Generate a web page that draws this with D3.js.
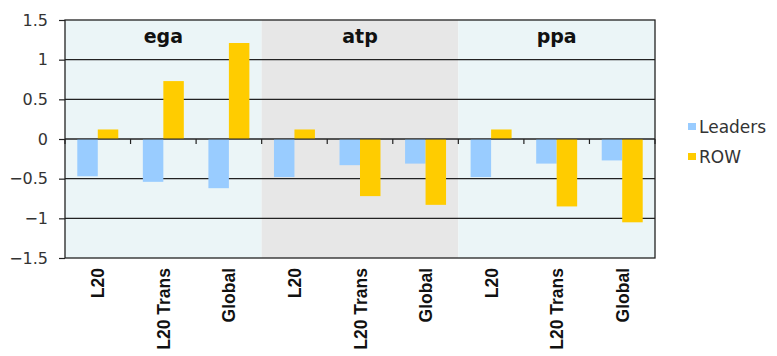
<!DOCTYPE html>
<html>
<head>
<meta charset="utf-8">
<script src="https://cdn.jsdelivr.net/npm/d3@7"></script>
<style>
  html, body { margin: 0; padding: 0; background: #fff; }
  svg { display: block; font-family: "Liberation Sans", Arial, sans-serif; }
</style>
</head>
<body>
<svg id="chart" width="777" height="356"></svg>
<script>
// Scenario groups and the policy runs inside each
const groups = ["ega", "atp", "ppa"];
const runs = ["L20", "L20 Trans", "Global"];
const seriesNames = ["Leaders", "ROW"];

// Values per group, in run order
const leaders = [
  [-0.47, -0.54, -0.62],  // ega
  [-0.48, -0.33, -0.31],  // atp
  [-0.48, -0.31, -0.27]   // ppa
];
const row = [
  [0.12, 0.73, 1.21],     // ega
  [0.12, -0.72, -0.83],   // atp
  [0.12, -0.85, -1.05]    // ppa
];
const yTicks = [1.5, 1, 0.5, 0, -0.5, -1, -1.5];

const colors = { Leaders: "#99CCFF", ROW: "#FFCC00" };
const groupFill = { ega: "#EBF5F7", atp: "#E7E7E7", ppa: "#EBF5F7" };

const plot = { left: 65, right: 655, top: 20, bottom: 258 };
const svg = d3.select("#chart");

// One band per (group, run)
const cells = [];
groups.forEach((g, gi) => runs.forEach((r, ri) => {
  cells.push({ key: g + "|" + r, group: g, run: r, Leaders: leaders[gi][ri], ROW: row[gi][ri] });
}));

const x = d3.scaleBand().domain(cells.map(d => d.key)).range([plot.left, plot.right]).paddingInner(0).paddingOuter(0);
const xs = d3.scaleBand().domain(seriesNames).range([0, x.bandwidth()]).paddingInner(0).paddingOuter(0.6);
const y = d3.scaleLinear().domain([-1.5, 1.5]).range([plot.bottom, plot.top]);

// Group backgrounds and titles
groups.forEach(g => {
  const keys = cells.filter(c => c.group === g).map(c => c.key);
  const x0 = x(keys[0]), x1 = x(keys[keys.length - 1]) + x.bandwidth();
  svg.append("rect").attr("x", x0).attr("y", plot.top).attr("width", x1 - x0).attr("height", plot.bottom - plot.top)
    .attr("fill", groupFill[g]);
  svg.append("text").attr("x", (x0 + x1) / 2).attr("y", 43).attr("text-anchor", "middle")
    .attr("font-family", "'DejaVu Sans', Verdana, sans-serif")
    .attr("font-size", 19).attr("font-weight", "bold").attr("fill", "#111").text(g);
});

// Gridlines
svg.append("g").selectAll("line").data(yTicks.filter(t => t !== 1.5 && t !== -1.5)).join("line")
  .attr("x1", plot.left).attr("x2", plot.right)
  .attr("y1", d => y(d)).attr("y2", d => y(d))
  .attr("stroke", "#222").attr("stroke-width", 1.2);

// Bars
const barG = svg.append("g");
cells.forEach(c => {
  seriesNames.forEach(s => {
    const v = c[s];
    barG.append("rect")
      .attr("x", x(c.key) + xs(s))
      .attr("width", xs.bandwidth())
      .attr("y", y(Math.max(0, v)))
      .attr("height", Math.abs(y(v) - y(0)))
      .attr("fill", colors[s]);
  });
});

// Zero line and its category tick marks
svg.append("line").attr("x1", plot.left).attr("x2", plot.right).attr("y1", y(0)).attr("y2", y(0))
  .attr("stroke", "#222").attr("stroke-width", 1.2);
const boundaries = cells.map(c => x(c.key)).concat([plot.right]);
svg.append("g").selectAll("line").data(boundaries).join("line")
  .attr("x1", d => d).attr("x2", d => d).attr("y1", y(0)).attr("y2", y(0) + 5)
  .attr("stroke", "#222").attr("stroke-width", 1.2);

// Plot border
svg.append("rect").attr("x", plot.left).attr("y", plot.top)
  .attr("width", plot.right - plot.left).attr("height", plot.bottom - plot.top)
  .attr("fill", "none").attr("stroke", "#222").attr("stroke-width", 1.3);

// Y axis
const yAxis = d3.axisLeft(y).tickValues(yTicks).tickSize(6).tickPadding(11).tickFormat(d3.format("~g"));
const ya = svg.append("g").attr("transform", `translate(${plot.left},0)`).call(yAxis);
ya.select(".domain").remove();
ya.selectAll("line").attr("stroke", "#222").attr("stroke-width", 1.2);
ya.selectAll("text").attr("font-size", 16).attr("fill", "#333")
  .attr("font-family", "'DejaVu Sans', Verdana, sans-serif");

// X labels (rotated)
svg.append("g").selectAll("text").data(cells).join("text")
  .attr("transform", d => `translate(${x(d.key) + x.bandwidth() / 2 + 6.5},${plot.bottom + 10}) rotate(-90)`)
  .attr("text-anchor", "end")
  .attr("font-size", 17.5).attr("font-weight", "bold").attr("fill", "#111")
  .text(d => d.run);

// Legend
const lg = svg.append("g").attr("transform", "translate(688,120)");
seriesNames.forEach((s, i) => {
  lg.append("rect").attr("x", 0).attr("y", i * 30 + 3).attr("width", 8).attr("height", 7).attr("fill", colors[s]);
  lg.append("text").attr("x", 11).attr("y", i * 30 + 12.5)
    .attr("font-family", "'DejaVu Sans', Verdana, sans-serif")
    .attr("font-size", 17).attr("fill", "#333").text(s);
});
</script>
</body>
</html>
